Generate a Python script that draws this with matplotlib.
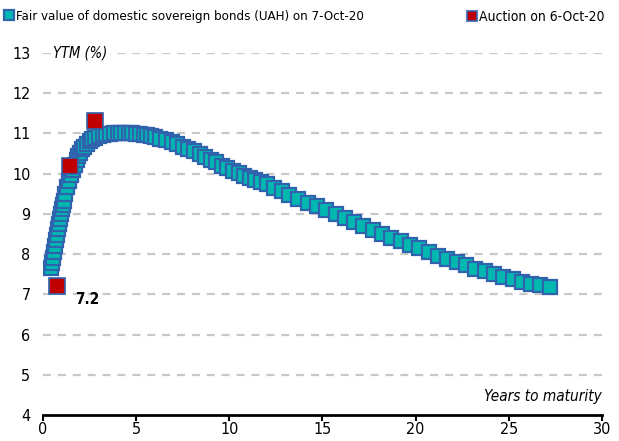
import matplotlib
matplotlib.use("Agg")
import matplotlib.pyplot as plt

plt.rcParams['font.family'] = ['DejaVu Sans']
plt.rcParams['font.stretch'] = 'condensed'

fair_x = [0.45,0.5,0.55,0.6,0.65,0.7,0.75,0.8,0.85,0.9,0.95,1.0,1.05,1.1,1.2,1.3,1.4,1.5,1.6,1.7,
          1.8,1.9,2.0,2.1,2.2,2.35,2.5,2.65,2.8,3.0,3.2,3.4,3.6,3.8,4.0,4.2,4.4,4.6,4.8,5.0,
          5.2,5.4,5.6,5.8,6.0,6.3,6.6,6.9,7.2,7.5,7.8,8.1,8.4,8.7,9.0,9.3,9.6,9.9,10.2,10.5,
          10.8,11.1,11.4,11.7,12.0,12.4,12.8,13.2,13.7,14.2,14.7,15.2,15.7,16.2,16.7,17.2,17.7,18.2,18.7,19.2,
          19.7,20.2,20.7,21.2,21.7,22.2,22.7,23.2,23.7,24.2,24.7,25.2,25.7,26.2,26.7,27.2]
fair_y = [7.65,7.78,7.9,8.05,8.2,8.35,8.48,8.62,8.75,8.88,9.0,9.12,9.23,9.33,9.5,9.66,9.82,9.97,10.1,10.22,
          10.33,10.43,10.52,10.6,10.66,10.74,10.8,10.85,10.89,10.93,10.96,10.98,10.99,11.0,11.0,11.0,11.0,11.0,11.0,10.99,
          10.98,10.97,10.95,10.93,10.91,10.87,10.83,10.78,10.73,10.67,10.61,10.55,10.49,10.42,10.35,10.28,10.2,10.13,10.07,10.01,
          9.95,9.9,9.85,9.8,9.74,9.65,9.57,9.48,9.38,9.28,9.2,9.1,9.0,8.9,8.8,8.7,8.6,8.5,8.41,8.32,
          8.23,8.14,8.05,7.96,7.88,7.8,7.72,7.64,7.57,7.5,7.43,7.37,7.31,7.26,7.22,7.18]

auction_x = [0.75, 1.45, 2.8]
auction_y = [7.2, 10.2, 11.3]

label_text = "7.2"
x_ticks = [0, 5, 10, 15, 20, 25, 30]
y_ticks = [4, 5, 6, 7, 8, 9, 10, 11, 12, 13]

fig = plt.figure(figsize=(6.19, 4.41), dpi=100)
ax = fig.add_axes([0.0695, 0.059, 0.903, 0.821])

EDGE = "#2F63AE"
TEAL = "#00B8B0"
RED = "#C00000"

for y in y_ticks[1:]:
    ax.axhline(y, color="#C8C8C8", lw=1.6, ls=(0, (3.6, 3.1)), zorder=0)

h1, = ax.plot(fair_x, fair_y, ls="none", marker="s", ms=10, mfc=TEAL, mec=EDGE, mew=1.6,
              label="Fair value of domestic sovereign bonds (UAH) on 7-Oct-20", zorder=3)
h2, = ax.plot(auction_x, auction_y, ls="none", marker="s", ms=11, mfc=RED, mec=EDGE, mew=1.2,
              label="Auction on 6-Oct-20", zorder=4)

ax.text(2.4, 6.88, label_text, fontsize=11, fontweight="bold", ha="center", va="center")

ax.set_xlim(0, 30)
ax.set_ylim(4, 13)
ax.set_xticks(x_ticks)
ax.set_yticks(y_ticks)
ax.tick_params(axis="y", length=0, labelsize=11.5, pad=9)
ax.tick_params(axis="x", length=4, width=1.5, labelsize=11.5, pad=1, direction="out")
for s in ["top", "right", "left"]:
    ax.spines[s].set_visible(False)
ax.spines["bottom"].set_linewidth(2)

ax.text(0.55, 13, "YTM (%)", fontsize=10.5, style="italic", ha="left", va="center",
        bbox=dict(facecolor="white", edgecolor="none", pad=1.5), zorder=2)
ax.text(30, 4.45, "Years to maturity", fontsize=11, style="italic", ha="right", va="center")

leg1 = fig.legend(handles=[h1], loc="upper left", bbox_to_anchor=(0.0, 0.99), frameon=False,
                  fontsize=9.5, handlelength=0.6, handletextpad=0.2,
                  markerscale=0.7, borderaxespad=0.2, borderpad=0.2)
leg2 = fig.legend(handles=[h2], loc="upper right", bbox_to_anchor=(0.985, 0.99), frameon=False,
                  fontsize=10, handlelength=0.6, handletextpad=0.2,
                  markerscale=0.7, borderaxespad=0.2, borderpad=0.2)

fig.savefig("out.png", dpi=100)
